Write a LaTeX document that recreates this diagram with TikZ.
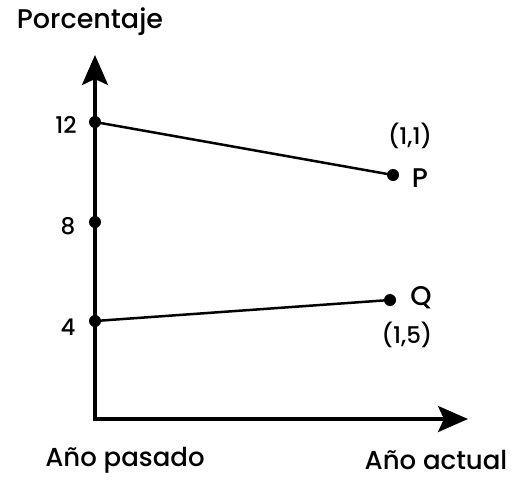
\documentclass[tikz,border=0pt]{standalone}
\usepackage{fontspec}
\setmainfont{Poppins}[UprightFont=* Medium]
\usetikzlibrary{arrows.meta}

\tikzset{
  axisline/.style={line width=3.5pt, -{Stealth[length=30pt, width=26pt, inset=6pt]}},
  dataline/.style={line width=2.5pt},
  datadot/.style={circle, fill=black, inner sep=0pt, minimum size=12pt},
  ticklabel/.style={font=\fontsize{23}{27}\selectfont},
  bigtext/.style={font=\fontsize{27}{32}\selectfont},
  xtitle/.style={font=\fontsize{26}{30}\selectfont, inner sep=0pt}
}

\begin{document}
\begin{tikzpicture}[x=1pt, y=-1pt]
\useasboundingbox (0,0) rectangle (521,479);

% Axes
\coordinate (origin) at (95,419);
\coordinate (ytip)   at (95,55);
\coordinate (xtip)   at (468,419);
\draw[axisline] ([yshift=1.75pt]origin) -- (ytip);
\draw[axisline] ([xshift=-1.75pt]origin) -- (xtip);

% Points
\node[datadot] (d12) at (95,122) {};
\node[datadot] (d8)  at (95,222) {};
\node[datadot] (d4)  at (95,321) {};
\node[datadot] (P)   at (393,175) {};
\node[datadot] (Q)   at (390,300) {};

% Lines
\draw[dataline] (d12.center) -- (P.center);
\draw[dataline] (d4.center) -- (Q.center);

% Tick labels
\node[ticklabel] (l12) at (66,125) {12};
\node[ticklabel] (l8)  at (68,226) {8};
\node[ticklabel] (l4)  at (68,327) {4};

% Point labels
\node[ticklabel] (cP) at (410,136) {(1,1)};
\node[bigtext]   (nP) at (420,178) {P};
\node[bigtext]   (nQ) at (421,298) {Q};
\node[ticklabel] (cQ) at (407,335) {(1,5)};

% Axis titles
\node[bigtext] (ytitle) at (90,22)  {Porcentaje};
\node[xtitle]  (xleft)  at (125,460) {Año pasado};
\node[xtitle]  (xright) at (436,460) {Año actual};

\end{tikzpicture}
\end{document}
